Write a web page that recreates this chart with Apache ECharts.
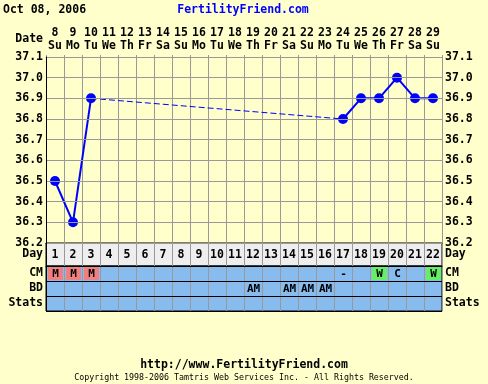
<!DOCTYPE html>
<html><head><meta charset="utf-8">
<script src="https://cdn.jsdelivr.net/npm/echarts@6/dist/echarts.min.js"></script>
<style>html,body{margin:0;padding:0;background:#ffffcc}#c{width:488px;height:384px}</style>
</head><body><div id="c"></div>
<script>
// ---- data ----
const chartDate = 'Oct 08, 2006';
const siteTitle = 'FertilityFriend.com';
const siteUrl = 'http://www.FertilityFriend.com';
const copyright = 'Copyright 1998-2006 Tamtris Web Services Inc. - All Rights Reserved.';
const cycleDays = ['1','2','3','4','5','6','7','8','9','10','11','12','13','14','15','16','17','18','19','20','21','22'];
const dates = ['8','9','10','11','12','13','14','15','16','17','18','19','20','21','22','23','24','25','26','27','28','29'];
const weekdays = ['Su','Mo','Tu','We','Th','Fr','Sa','Su','Mo','Tu','We','Th','Fr','Sa','Su','Mo','Tu','We','Th','Fr','Sa','Su'];
const temps = [36.5,36.3,36.9,null,null,null,null,null,null,null,null,null,null,null,null,null,36.8,36.9,36.9,37.0,36.9,36.9];
const cm = ['M','M','M','','','','','','','','','','','','','','-','','W','C','','W'];
const bd = ['','','','','','','','','','','','AM','','AM','AM','AM','','','','','',''];
const stats = ['','','','','','','','','','','','','','','','','','','','','',''];
const tableRows = ['CM','BD','Stats'];
const tempMin = 36.2, tempMax = 37.1, tempStep = 0.1;

// ---- derived ----
const bridge = temps.map(() => null);
for (let i = 1; i < temps.length; i++) {
  if (temps[i] === null && temps[i-1] !== null) {
    let j = i; while (j < temps.length && temps[j] === null) j++;
    if (j < temps.length) { bridge[i-1] = temps[i-1]; bridge[j] = temps[j]; }
  }
}
const marks = [];
[cm, bd, stats].forEach((row, r) => row.forEach((t, i) => { if (t) marks.push([i, r, t]); }));
const dayCells = cycleDays.map((d, i) => [i, 0, d]);

const FONT = 'DejaVu Sans Mono';
const cellColors = { M: '#f08080', W: '#66ee66' };
const GRID_GRAY = '#999999';

const chart = echarts.init(document.getElementById('c'), null, { renderer: 'canvas' });
const lbl = { fontFamily: FONT, fontWeight: 'bold', fontSize: 11.5, color: '#000' };
const catLbl = Object.assign({}, lbl, { margin: 3, interval: 0, hideOverlap: false });

chart.setOption({
  animation: false,
  backgroundColor: '#ffffcc',
  grid: [
    { left: 46, right: 46, top: 57, height: 186, show: false },
    { left: 46, right: 46, top: 243, height: 23, show: true, backgroundColor: '#eeeeee', borderColor: '#000', borderWidth: 1 },
    { left: 46, right: 46, top: 266, height: 45, show: true, backgroundColor: '#88bbee', borderColor: '#000', borderWidth: 1 }
  ],
  xAxis: [
    { gridIndex: 0, type: 'category', position: 'top', data: cycleDays, boundaryGap: true,
      axisLine: { lineStyle: { color: GRID_GRAY } },
      axisTick: { show: true, length: 2, lineStyle: { color: GRID_GRAY } },
      splitLine: { show: true, lineStyle: { color: GRID_GRAY, width: 1 } },
      axisLabel: Object.assign({}, lbl, { margin: 4, lineHeight: 13, interval: 0,
        formatter: (v, i) => dates[i] + '\n' + weekdays[i] }) },
    { gridIndex: 1, type: 'category', position: 'top', data: cycleDays, boundaryGap: true, z: 5,
      axisLine: { lineStyle: { color: '#000' } }, axisTick: { show: false }, axisLabel: { show: false },
      splitLine: { show: true, lineStyle: { color: GRID_GRAY } } },
    { gridIndex: 2, type: 'category', position: 'top', data: cycleDays, boundaryGap: true, z: 5,
      axisLine: { lineStyle: { color: '#000' } }, axisTick: { show: false }, axisLabel: { show: false },
      splitLine: { show: true, lineStyle: { color: GRID_GRAY } } }
  ],
  yAxis: [
    { gridIndex: 0, type: 'value', position: 'left', min: tempMin, max: tempMax, interval: tempStep, z: 6,
      axisLine: { show: true, lineStyle: { color: '#000' } }, axisTick: { show: false },
      splitLine: { show: true, lineStyle: { color: GRID_GRAY } },
      axisLabel: Object.assign({}, lbl, { margin: 3, formatter: v => v.toFixed(1) }) },
    { gridIndex: 0, type: 'value', position: 'right', min: tempMin, max: tempMax, interval: tempStep,
      axisLine: { show: true, lineStyle: { color: GRID_GRAY } }, axisTick: { show: false },
      splitLine: { show: false },
      axisLabel: Object.assign({}, lbl, { margin: 3, formatter: v => v.toFixed(1) }) },
    { gridIndex: 1, type: 'category', position: 'left', data: ['Day'], z: 6,
      axisLine: { show: true, lineStyle: { color: '#000' } }, axisTick: { show: false },
      axisLabel: catLbl },
    { gridIndex: 1, type: 'category', position: 'right', data: ['Day'],
      axisLine: { show: true, lineStyle: { color: GRID_GRAY } }, axisTick: { show: false },
      axisLabel: catLbl },
    { gridIndex: 2, type: 'category', position: 'left', data: tableRows, inverse: true, z: 6,
      axisLine: { show: true, lineStyle: { color: '#000' } }, axisTick: { show: false },
      splitLine: { show: true, lineStyle: { color: '#000' } },
      axisLabel: catLbl },
    { gridIndex: 2, type: 'category', position: 'right', data: tableRows, inverse: true,
      axisLine: { show: true, lineStyle: { color: GRID_GRAY } }, axisTick: { show: false },
      axisLabel: catLbl }
  ],
  series: [
    { type: 'line', xAxisIndex: 0, yAxisIndex: 0, data: bridge, connectNulls: true, symbol: 'none',
      lineStyle: { color: '#0000ff', width: 1, type: [6, 3] }, z: 3 },
    { type: 'line', xAxisIndex: 0, yAxisIndex: 0, data: temps, connectNulls: false,
      symbol: 'circle', symbolSize: 10, showAllSymbol: true,
      itemStyle: { color: '#0000ff' }, lineStyle: { color: '#0000ff', width: 2 }, z: 4 },
    { type: 'custom', xAxisIndex: 1, yAxisIndex: 2, data: dayCells, z: 4,
      renderItem: (params, api) => {
        const p = api.coord([api.value(0), api.value(1)]);
        return { type: 'text', style: { text: dayCells[params.dataIndex][2], x: p[0], y: p[1] + 1,
          textAlign: 'center', textVerticalAlign: 'middle', font: 'bold 11.5px "' + FONT + '"', fill: '#000' } };
      } },
    { type: 'custom', xAxisIndex: 2, yAxisIndex: 4, data: marks, z: 4,
      renderItem: (params, api) => {
        const p = api.coord([api.value(0), api.value(1)]);
        const s = api.size([1, 1]);
        const t = marks[params.dataIndex][2];
        const children = [];
        if (cellColors[t]) {
          children.push({ type: 'rect', shape: { x: Math.round(p[0] - s[0] / 2) + 2, y: Math.round(p[1] - s[1] / 2) + 1,
            width: Math.round(s[0]) - 3, height: Math.round(s[1]) - 2 }, style: { fill: cellColors[t] } });
        }
        children.push({ type: 'text', style: { text: t, x: p[0] + 0.5, y: p[1] + 1, textAlign: 'center', textVerticalAlign: 'middle',
          font: 'bold 11px "' + FONT + '"', fill: '#000' } });
        return { type: 'group', children };
      } }
  ],
  graphic: [
    { type: 'text', left: 3, top: 4, style: { text: chartDate, font: 'bold 11.5px "' + FONT + '"', fill: '#000' } },
    { type: 'text', x: 243, y: 10, style: { text: siteTitle, font: 'bold 11.5px "' + FONT + '"', fill: '#0000ff', textAlign: 'center', textVerticalAlign: 'middle' } },
    { type: 'text', x: 43, y: 39, style: { text: 'Date', font: 'bold 11.5px "' + FONT + '"', fill: '#000', textAlign: 'right', textVerticalAlign: 'middle' } },
    { type: 'text', x: 244, y: 365, style: { text: siteUrl, font: 'bold 11.5px "' + FONT + '"', fill: '#000', textAlign: 'center', textVerticalAlign: 'middle' } },
    { type: 'text', x: 244, y: 378, style: { text: copyright, font: '8.3px "' + FONT + '"', fill: '#000', textAlign: 'center', textVerticalAlign: 'middle' } }
  ]
});
</script></body></html>
